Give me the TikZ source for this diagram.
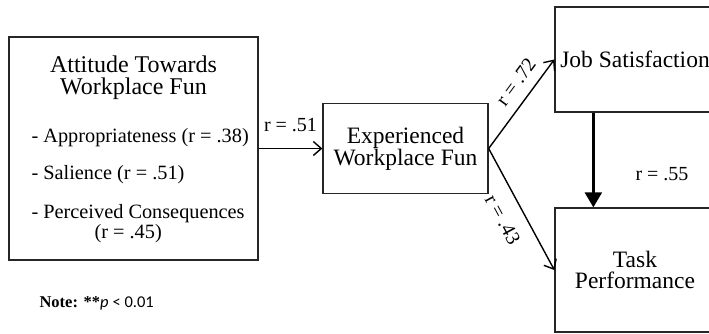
\documentclass[tikz,border=0pt]{standalone}
\usepackage{fontspec}
\setmainfont{Liberation Serif}
\newfontfamily\calibri{Carlito}
\usepackage{tikz}
\usetikzlibrary{positioning, arrows.meta, calc}
\tikzstyle{block} = [rectangle, draw=black!85, line width=1.3pt, minimum width=160pt, inner sep=0pt, align=center, font=\fontsize{23.5}{21}\selectfont]
\tikzstyle{line} = [draw, line width=1.4pt, -{Straight Barb[length=8pt, width=14pt]}]
\tikzstyle{strong} = [draw, line width=2.4pt, -{Triangle[length=15pt, width=17pt]}]
\tikzstyle{coef} = [inner sep=0pt, font=\fontsize{20}{20}\selectfont]

\begin{document}
\begin{tikzpicture}[x=1pt, y=1pt, node distance=272pt]
        \useasboundingbox (0,0) rectangle (709,-333);
        % Nodes
        \node (att) [block, minimum width=249pt, minimum height=223pt] at (133.5,-148.5) {};
        \node (attTitle) [anchor=north, align=center, inner sep=0pt, font=\fontsize{24}{22}\selectfont] at ([yshift=-19pt]att.north) {Attitude Towards\\Workplace Fun};
        \node (attItems) [anchor=north west, align=left, inner sep=0pt, font=\fontsize{20.3}{20}\selectfont] at ([xshift=23pt, yshift=-92pt]att.north west) {- Appropriateness (r = .38)\\[17pt]- Salience (r = .51)\\[19pt]- Perceived Consequences\\\hspace*{63pt}(r = .45)};
        \node (exp) [block, right of=att, minimum width=165pt, minimum height=90pt] {Experienced\\Workplace Fun};
        \node (job) [block, right of=exp, xshift=-42.5pt, yshift=89pt, minimum height=105pt] {Job Satisfaction};
        \node (task) [block, below of=job, yshift=61.5pt, minimum height=124pt] {Task\\Performance};
        \node (note) [anchor=base west, inner sep=0pt, font=\fontsize{16.5}{16}\selectfont] at ([xshift=31pt, yshift=-47pt]att.south west) {\textbf{Note: **}{\calibri\itshape p} {\calibri < 0.01}};
        % Edges
        \path [line] (att) -- node[coef, above=16pt] {r = .51} (exp);
        \path [line] (exp.east) -- node[coef, sloped, above=10pt, pos=0.63] {r = .72} (job.west);
        \path [line] (exp.east) -- node[coef, sloped, below=14pt, pos=0.5] {r = .43} (task.west);
        \path [strong] ([xshift=39pt]job.south west) -- node[coef, right=41pt, pos=0.65] {r = .55} ([xshift=39pt]task.north west);
    \end{tikzpicture}
\end{document}
